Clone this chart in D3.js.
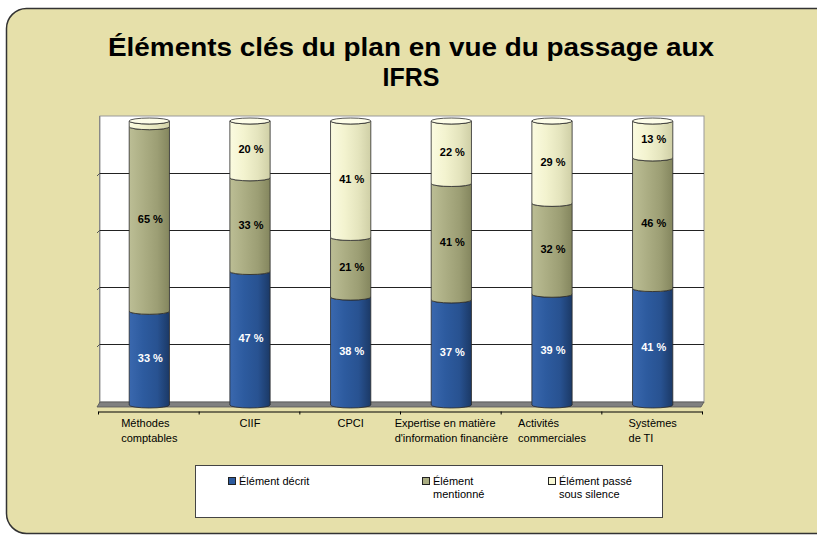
<!DOCTYPE html>
<html>
<head>
<meta charset="utf-8">
<script src="https://cdn.jsdelivr.net/npm/d3@7"></script>
<style>
  body { margin: 0; background: #fff; }
  text { font-family: Arial, "Liberation Sans", sans-serif; }
</style>
</head>
<body>
<div id="chart"></div>
<script>
// categories (label lines) and the three stacked series, in %
const categories = ["Méthodes comptables", "CIIF", "CPCI", "Expertise en matière d'information financière", "Activités commerciales", "Systèmes de TI"];
const categoryLines = [["Méthodes", "comptables"], ["CIIF"], ["CPCI"], ["Expertise en matière", "d'information financière"], ["Activités", "commerciales"], ["Systèmes", "de TI"]];
const seriesNames = ["Élément décrit", "Élément mentionné", "Élément passé sous silence"];
const legendLines = [["Élément décrit"], ["Élément", "mentionné"], ["Élément passé", "sous silence"]];
const described = [33, 47, 38, 37, 39, 41];
const mentioned = [65, 33, 21, 41, 32, 46];
const silent = [2, 20, 41, 22, 29, 13];
const gridTicks = [20, 40, 60, 80];

(function chart() {
const width = 817, height = 536;
const plot = { left: 100, right: 704, top: 116, bottom: 402 };

const svg = d3.select("#chart").append("svg")
    .attr("width", width).attr("height", height);

const defs = svg.append("defs");
const grads = [
  ["g0", ["#3a68ae", "#2d5b9f", "#285291", "#1b3966"]],
  ["g1", ["#bcbe95", "#acae84", "#9c9e74", "#84865e"]],
  ["g2", ["#fbfbe0", "#f3f3cf", "#e4e4bd", "#cfcfa6"]]
];
grads.forEach(([id, cols]) => {
  const g = defs.append("linearGradient").attr("id", id).attr("x1", 0).attr("x2", 1).attr("y1", 0).attr("y2", 0);
  [0, 0.35, 0.7, 1].forEach((o, i) => g.append("stop").attr("offset", o).attr("stop-color", cols[i]));
});

// outer panel
svg.append("rect")
    .attr("x", 6.5).attr("y", 8.5).attr("width", 840).attr("height", 525)
    .attr("rx", 20).attr("fill", "#e6e0aa").attr("stroke", "#333").attr("stroke-width", 1.5);

// title
const title = svg.append("text").attr("text-anchor", "middle")
    .attr("font-weight", "bold").attr("font-size", 25).attr("fill", "#000");
title.append("tspan").attr("x", 411).attr("y", 56)
    .attr("textLength", 606).attr("lengthAdjust", "spacingAndGlyphs")
    .text("Éléments clés du plan en vue du passage aux");
title.append("tspan").attr("x", 411).attr("y", 86).text("IFRS");

// scales
let x = d3.scaleBand()
    .domain(categories)
    .range([98, 702])
    .paddingInner(0.6).paddingOuter(0.3);

let yGrid = d3.scaleLinear().domain([0, 100]).range([plot.bottom - 1, plot.top]);
let y = d3.scaleLinear().domain([0, 100]).range([405, 121]); // bars sit slightly forward

// back wall
svg.append("rect")
    .attr("x", plot.left).attr("y", plot.top)
    .attr("width", plot.right - plot.left).attr("height", plot.bottom - plot.top)
    .attr("fill", "#fff").attr("stroke", "#999").attr("stroke-width", 1);

// gridlines
svg.append("g")
    .attr("transform", `translate(${plot.left},0)`)
    .call(d3.axisLeft(yGrid).tickValues(gridTicks).tickSize(-(plot.right - plot.left)).tickFormat(""))
    .call(g => g.select(".domain").remove())
    .call(g => g.selectAll("line").attr("stroke", "#222").attr("stroke-width", 1));

// left wall edge with small ticks
svg.append("line")
    .attr("x1", plot.left - 0.5).attr("x2", plot.left - 0.5)
    .attr("y1", plot.top).attr("y2", plot.bottom + 3)
    .attr("stroke", "#888");
svg.selectAll(".ltick").data(gridTicks).join("line")
    .attr("x1", plot.left - 3).attr("x2", plot.left)
    .attr("y1", d => yGrid(d) + 3).attr("y2", d => yGrid(d))
    .attr("stroke", "#555");

// floor
svg.append("path")
    .attr("d", `M${plot.left},${plot.bottom} L${plot.right},${plot.bottom} L${plot.right - 3},${plot.bottom + 5} L${plot.left - 3},${plot.bottom + 5} Z`)
    .attr("fill", "#808080").attr("stroke", "#555").attr("stroke-width", 0.8);

// category axis with ticks at band boundaries
let xb = d3.scaleLinear().domain([0, categories.length]).range([98, 702]);
svg.append("g")
    .attr("transform", `translate(0,${411.5})`)
    .call(d3.axisBottom(xb).tickValues(d3.range(categories.length + 1)).tickFormat("").tickSizeInner(3).tickSizeOuter(0))
    .call(g => g.selectAll("line,path").attr("stroke", "#000"));

// stacked cylinders
const rows = categories.map((c, i) => ({ cat: c, s0: described[i], s1: mentioned[i], s2: silent[i] }));
const stack = d3.stack().keys(["s0", "s1", "s2"])(rows);

const rx = x.bandwidth() / 2, ry = 3;
function segPath(d, cat) {
  const x0 = x(cat) + 1, x1 = x0 + x.bandwidth();
  const yb = y(d[0]), yt = y(d[1]);
  return `M${x0},${yt} L${x0},${yb} A${rx},${ry} 0 0 0 ${x1},${yb} L${x1},${yt} A${rx},${ry} 0 0 1 ${x0},${yt} Z`;
}

stack.forEach((layer, k) => {
  const g = svg.append("g");
  g.selectAll("path").data(layer).join("path")
      .attr("d", d => segPath(d, d.data.cat))
      .attr("fill", `url(#g${k})`)
      .attr("stroke", "#2a2a2a").attr("stroke-width", 0.8);
});

// top caps
const topLayer = stack[stack.length - 1];
svg.append("g").selectAll("ellipse").data(topLayer).join("ellipse")
    .attr("cx", d => x(d.data.cat) + 1 + rx)
    .attr("cy", d => y(d[1]))
    .attr("rx", rx).attr("ry", ry)
    .attr("fill", "#fdfde8").attr("stroke", "#2a2a2a").attr("stroke-width", 0.8);

// value labels
stack.forEach((layer, k) => {
  svg.append("g").selectAll("text").data(layer.filter(d => d[1] - d[0] >= 5)).join("text")
      .attr("x", d => x(d.data.cat) + 1 + rx + 1)
      .attr("y", d => (y(d[0]) + y(d[1])) / 2 + 4)
      .attr("text-anchor", "middle")
      .attr("font-size", 11).attr("font-weight", "bold")
      .attr("fill", k === 0 ? "#fff" : "#000")
      .text(d => `${d[1] - d[0]} %`);
});

// category labels: left-aligned block centred under each band
categories.forEach((c, i) => {
  const t = svg.append("text").attr("font-size", 11).attr("fill", "#000");
  categoryLines[i].forEach((line, j) => {
    t.append("tspan").attr("y", 427 + j * 15).text(line);
  });
  const w = d3.max(t.selectAll("tspan").nodes(), n => n.getComputedTextLength());
  const cx = x(c) + x.bandwidth() / 2 + 1;
  t.selectAll("tspan").attr("x", cx - w / 2);
});

// legend
svg.append("rect")
    .attr("x", 195.5).attr("y", 465.5).attr("width", 467).attr("height", 52)
    .attr("fill", "#fff").attr("stroke", "#444").attr("stroke-width", 1);

const legendX = [228, 422, 548];
const legendFill = ["#2d5b9f", "#aaad82", "#f7f7d5"];
seriesNames.forEach((s, i) => {
  svg.append("rect")
      .attr("x", legendX[i] + 0.5).attr("y", 477.5).attr("width", 7).attr("height", 7)
      .attr("fill", legendFill[i]).attr("stroke", "#222");
  const t = svg.append("text").attr("font-size", 11).attr("fill", "#000");
  legendLines[i].forEach((line, j) => {
    t.append("tspan").attr("x", legendX[i] + 11).attr("y", 485 + j * 13).text(line);
  });
});
})();
</script>
</body>
</html>
